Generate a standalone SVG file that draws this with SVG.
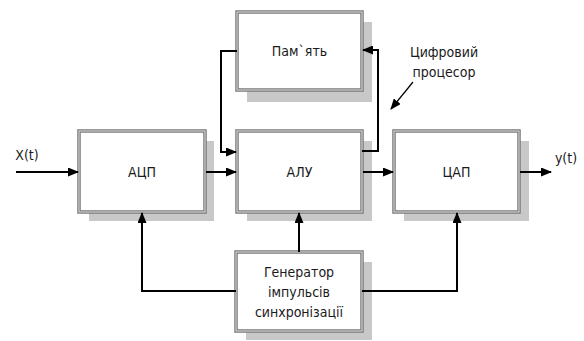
<svg xmlns="http://www.w3.org/2000/svg" width="584" height="341" viewBox="0 0 584 341">
<defs>
<marker id="ah" markerWidth="11" markerHeight="9" refX="10" refY="4.5" orient="auto" markerUnits="userSpaceOnUse">
<path d="M0,0 L11,4.5 L0,9 Z" fill="#000"/>
</marker>
<style>
.sh{fill:#c8c8c8;stroke:none}
.bx{fill:#fff;stroke:#7a7a7a;stroke-width:3.5}
.in{fill:none;stroke:#dcdcdc;stroke-width:1}
.t{font-family:"Liberation Sans Narrow","DejaVu Sans Condensed","Liberation Sans",sans-serif;font-size:14px;fill:#1a1a1a;text-anchor:middle}
.c{fill:none;stroke:#000;stroke-width:2}
.thin{fill:none;stroke:#000;stroke-width:1.2}
</style>
</defs>
<rect width="584" height="341" fill="#fff"/>
<g id="pam">
<rect class="sh" x="247" y="22" width="125" height="80"/>
<rect class="bx" x="237" y="12" width="125" height="78"/>
<rect class="in" x="237" y="12" width="125" height="78"/>
<text class="t" x="299.5" y="56">Пам`ять</text>
</g>
<g id="adc">
<rect class="sh" x="89" y="141" width="125" height="80"/>
<rect class="bx" x="79" y="131" width="126" height="81"/>
<rect class="in" x="79" y="131" width="126" height="81"/>
<text class="t" x="142" y="177">АЦП</text>
</g>
<g id="alu">
<rect class="sh" x="247" y="141" width="125" height="80"/>
<rect class="bx" x="237" y="131" width="125" height="81"/>
<rect class="in" x="237" y="131" width="125" height="81"/>
<text class="t" x="299.5" y="177">АЛУ</text>
</g>
<g id="dac">
<rect class="sh" x="404" y="141" width="125" height="80"/>
<rect class="bx" x="394" y="131" width="125" height="81"/>
<rect class="in" x="394" y="131" width="125" height="81"/>
<text class="t" x="456.5" y="177">ЦАП</text>
</g>
<g id="gen">
<rect class="sh" x="246" y="262" width="126" height="78"/>
<rect class="bx" x="236" y="252" width="126" height="79"/>
<rect class="in" x="236" y="252" width="126" height="79"/>
<text class="t" x="299" y="277">Генератор</text>
<text class="t" x="299" y="297">імпульсів</text>
<text class="t" x="299" y="317">синхронізації</text>
</g>
<g id="labels">
<text class="t" x="27" y="160">X(t)</text>
<text class="t" x="566" y="163">y(t)</text>
<text class="t" x="444" y="57">Цифровий</text>
<text class="t" x="444" y="77">процесор</text>
</g>
<g id="connectors">
<path class="c" d="M16,172 H78" marker-end="url(#ah)"/>
<path class="c" d="M206,172 H236" marker-end="url(#ah)"/>
<path class="c" d="M363,172 H393" marker-end="url(#ah)"/>
<path class="c" d="M520,172 H551" marker-end="url(#ah)"/>
<path class="c" d="M237,51 H221 V152 H236" marker-end="url(#ah)"/>
<path class="c" d="M362,151 H378 V50 H363" marker-end="url(#ah)"/>
<path class="c" d="M299,252 V213" marker-end="url(#ah)"/>
<path class="c" d="M236,291 H142 V213" marker-end="url(#ah)"/>
<path class="c" d="M362,291 H457 V213" marker-end="url(#ah)"/>
<path class="thin" d="M413,82 L391,109" marker-end="url(#ah)"/>
</g>
</svg>
